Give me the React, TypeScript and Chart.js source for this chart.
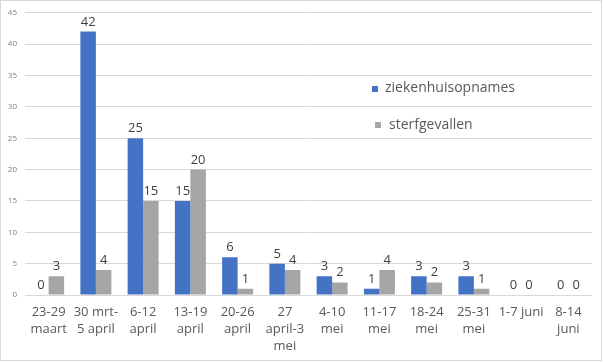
import React, { useEffect, useRef } from "react";
import { Chart, registerables } from "chart.js";

Chart.register(...registerables);

const categories: string[][] = [
  ["23-29", "maart"],
  ["30 mrt-", "5 april"],
  ["6-12", "april"],
  ["13-19", "april"],
  ["20-26", "april"],
  ["27", "april-3", "mei"],
  ["4-10", "mei"],
  ["11-17", "mei"],
  ["18-24", "mei"],
  ["25-31", "mei"],
  ["1-7 juni"],
  ["8-14", "juni"],
];
const ziekenhuisopnames = [0, 42, 25, 15, 6, 5, 3, 1, 3, 3, 0, 0];
const sterfgevallen = [3, 4, 15, 20, 1, 4, 2, 4, 2, 1, 0, 0];
const seriesNames = ["ziekenhuisopnames", "sterfgevallen"];
const colors = ["#4472C4", "#A5A5A5"];

const FONT = "'Open Sans', 'Liberation Sans', sans-serif";

export default function App() {
  const ref = useRef<HTMLCanvasElement>(null);
  useEffect(() => {
    if (!ref.current) return;
    const labelPlugin = {
      id: "labels",
      afterDatasetsDraw(chart: any) {
        const ctx = chart.ctx;
        ctx.save();
        ctx.font = `13px ${FONT}`;
        ctx.fillStyle = "#404040";
        ctx.textAlign = "center";
        ctx.textBaseline = "alphabetic";
        chart.data.datasets.forEach((ds: any, i: number) => {
          const meta = chart.getDatasetMeta(i);
          meta.data.forEach((el: any, j: number) => {
            ctx.fillText(String(ds.data[j]), el.x, el.y - 6);
          });
        });
        ctx.restore();
      },
      afterDraw(chart: any) {
        const ctx = chart.ctx;
        ctx.save();
        // outer border
        ctx.strokeStyle = "#d9d9d9";
        ctx.lineWidth = 1;
        ctx.strokeRect(0.5, 0.5, 601, 360);
        // legend
        ctx.font = `14px ${FONT}`;
        ctx.textBaseline = "middle";
        ctx.textAlign = "left";
        const items = [
          { sx: 372, sy: 86, tx: 385, ty: 88.5 },
          { sx: 375, sy: 122, tx: 389, ty: 125 },
        ];
        items.forEach((it, i) => {
          ctx.fillStyle = colors[i];
          ctx.fillRect(it.sx, it.sy, 6, 6);
          ctx.fillStyle = "#595959";
          ctx.fillText(seriesNames[i], it.tx, it.ty);
        });
        ctx.restore();
      },
    };
    const chart = new Chart(ref.current, {
      type: "bar",
      data: {
        labels: categories,
        datasets: [
          {
            label: seriesNames[0],
            data: ziekenhuisopnames,
            backgroundColor: colors[0],
            categoryPercentage: 0.656,
            barPercentage: 1,
          },
          {
            label: seriesNames[1],
            data: sterfgevallen,
            backgroundColor: colors[1],
            categoryPercentage: 0.656,
            barPercentage: 1,
          },
        ],
      },
      options: {
        animation: false,
        responsive: false,
        maintainAspectRatio: false,
        layout: { padding: { top: 11, right: 11, bottom: 0, left: 0 } },
        plugins: {
          legend: { display: false },
          tooltip: { enabled: false },
        },
        scales: {
          x: {
            grid: { display: false, drawTicks: false },
            border: { display: false },
            ticks: {
              color: "#595959",
              font: { family: FONT, size: 13, lineHeight: 1.3 },
              padding: 9,
              maxRotation: 0,
              autoSkip: false,
            },
            afterFit(scale: any) {
              scale.height = 67;
            },
          },
          y: {
            min: 0,
            max: 45,
            grid: { color: "#d9d9d9", drawTicks: false, lineWidth: 1 },
            border: { display: false },
            ticks: {
              stepSize: 5,
              color: "#7f7f7f",
              font: { family: FONT, size: 8 },
              padding: 8,
            },
            afterFit(scale: any) {
              scale.width = 25;
            },
          },
        },
      },
      plugins: [labelPlugin],
    });
    return () => chart.destroy();
  }, []);
  return (
    <div style={{ position: "fixed", left: 0, top: 0, width: 603, height: 362, background: "#fff" }}>
      <canvas ref={ref} width={603} height={362} style={{ width: 603, height: 362, display: "block" }} />
    </div>
  );
}
